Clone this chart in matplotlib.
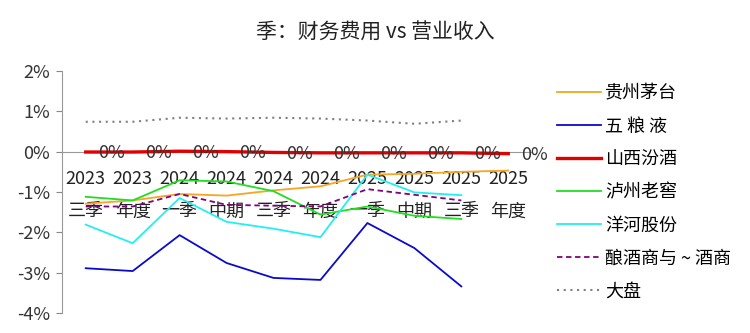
import numpy as np
import matplotlib.pyplot as plt

plt.rcParams['font.family'] = ['Noto Sans CJK SC', 'DejaVu Sans']
plt.rcParams['font.weight'] = 'light'
plt.rcParams['axes.unicode_minus'] = False

periods = ['2023\n三季', '2023\n年度', '2024\n一季', '2024\n中期', '2024\n三季',
           '2024\n年度', '2025\n一季', '2025\n中期', '2025\n三季', '2025\n年度']

# values in percent
moutai = [-1.29, -1.21, -1.05, -1.09, -0.96, -0.86, -0.57, -0.55, -0.50, -0.47]
wuliangye = [-2.89, -2.96, -2.07, -2.76, -3.13, -3.18, -1.77, -2.39, -3.34]
fenjiu = [-0.01, -0.01, 0.01, 0.0, -0.02, -0.03, -0.03, -0.03, -0.03, -0.05]
luzhou = [-1.12, -1.21, -0.71, -0.74, -0.98, -1.56, -1.36, -1.59, -1.67]
yanghe = [-1.81, -2.27, -1.15, -1.74, -1.91, -2.12, -0.57, -1.01, -1.08]
brewers = [-1.36, -1.36, -1.05, -1.32, -1.34, -1.36, -0.93, -1.07, -1.21]
market = [0.74, 0.74, 0.84, 0.82, 0.84, 0.82, 0.77, 0.69, 0.77]

fig = plt.figure(figsize=(7.5, 3.33), dpi=100)
ax = fig.add_axes([0.083, 0.06, 0.626, 0.727])

# spine position first, it resets the ticks
ax.spines['top'].set_visible(False)
ax.spines['right'].set_visible(False)
ax.spines['bottom'].set_position(('data', 0))
ax.spines['bottom'].set_color('#999999')
ax.spines['left'].set_color('#999999')

x10 = np.arange(10)
x9 = np.arange(9)
ax.plot(x10, moutai, color='#F5A623', lw=1.3, label='贵州茅台')
ax.plot(x9, wuliangye, color='#0A0ACC', lw=1.3, label='五 粮 液')
ax.plot(x10, fenjiu, color='#E00000', lw=2.4, label='山西汾酒', zorder=3)
ax.plot(x9, luzhou, color='#22DD22', lw=1.3, label='泸州老窖')
ax.plot(x9, yanghe, color='#22EEF5', lw=1.3, label='洋河股份')
ax.plot(x9, brewers, color='#800080', lw=1.3, ls=(0, (3, 2)), label='酿酒商与 ~ 酒商')
ax.plot(x9, market, color='#808080', lw=1.5, ls=(0, (1, 2.2)), label='大盘')

for i, v in enumerate(fenjiu):
    ax.annotate('0%', (i, v), xytext=(9, -1),
                textcoords='offset points', ha='left', va='center',
                fontsize=13, color='#333333', zorder=4)

ax.set_xlim(-0.5, 9.5)
ax.set_ylim(-4, 2)
ax.set_yticks(np.arange(-4, 3, 1))
ax.set_yticklabels([f'{v}%' for v in range(-4, 3)], fontsize=13, color='#333333')
ax.tick_params(axis='y', length=4, color='#888888', pad=5)

# category labels under the zero line
ax.set_xticks(x10)
ax.set_xticklabels([])
ax.tick_params(axis='x', length=0)
for i, p in enumerate(periods):
    ax.annotate(p, (i, 0), xytext=(0, -13), textcoords='offset points',
                ha='center', va='top', fontsize=13, color='#222222',
                linespacing=2.05, zorder=1)

fig.suptitle('季：财务费用 vs 营业收入', x=0.5, y=0.935, fontsize=15, color='#222222')

ax.legend(loc='upper left', bbox_to_anchor=(1.02, 1.01), frameon=False,
          fontsize=13, handlelength=2.4, handletextpad=0.25, labelspacing=0.83)

fig.savefig('out.png', dpi=100)
